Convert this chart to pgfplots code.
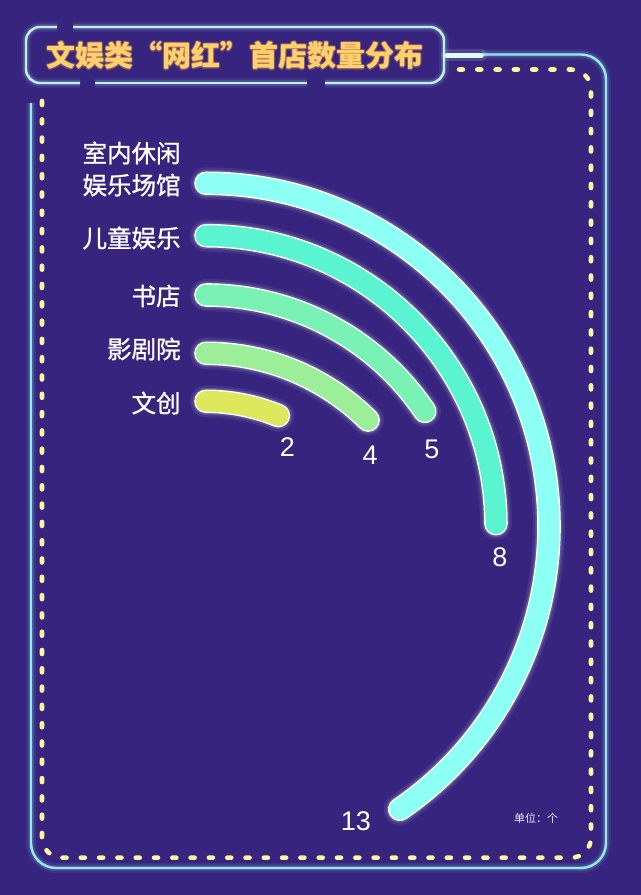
\documentclass[border=0pt]{standalone}
\usepackage{pgfplots}
\pgfplotsset{compat=1.18}
\usepackage{pgfplotstable}
\usepackage{fontspec}
\setmainfont{Liberation Sans}
\newfontfamily\cjk{Noto Sans CJK SC}
\newfontfamily\cjkm{Noto Sans CJK SC}[FakeBold=1]
\definecolor{bg}{RGB}{54,36,126}
\definecolor{framec}{RGB}{150,236,245}
\definecolor{boxc}{RGB}{190,243,248}
\definecolor{dotc}{RGB}{255,245,160}
\definecolor{titlec}{RGB}{255,208,112}
\definecolor{glowc}{RGB}{255,170,60}
\definecolor{c1}{RGB}{142,255,245}
\definecolor{c2}{RGB}{90,245,208}
\definecolor{c3}{RGB}{122,242,182}
\definecolor{c4}{RGB}{156,238,152}
\definecolor{c5}{RGB}{221,232,92}
\pgfdeclareplotmark{nothing}{}
\newcommand\PP[2]{(axis cs:#1,\fpeval{895-#2})}
\newcommand\titletext{\cjk\bfseries\fontsize{14.5}{15}\selectfont 文娱类“网红”首店数量分布}
\newcommand\framepaths[2]{%
  \draw[framec,line width=#1,opacity=#2,rounded corners=12.5pt]
    \PP{482}{54.5} -- \PP{606}{54.5} -- \PP{606}{868} -- \PP{31}{868} -- \PP{31}{103};
  \draw[boxc,line width=#1,opacity=#2,rounded corners=7pt]
    \PP{57}{27} -- \PP{26}{27} -- \PP{26}{83} -- \PP{80}{83};
  \draw[boxc,line width=#1,opacity=#2] \PP{95}{83} -- \PP{307}{83};
  \draw[boxc,line width=#1,opacity=#2,rounded corners=7pt]
    \PP{325}{83} -- \PP{444}{83} -- \PP{444}{27} -- \PP{73}{27};
}
\newcommand\tglow[2]{\node[text=glowc,opacity=0.18,xshift=#1pt,yshift=#2pt] at \PP{235}{55.5} {\titletext};}
\newcommand\bararc[2]{\draw[#1,line width=#2,line cap=round] (0,0) arc[start angle=90,end angle={90-11.2*\V},radius={\Rad*0.5pt}];}

% value, start y (px from top), arc radius (px), colour index, label offset
\pgfplotstableread{
value top rad ci dx dy
13 183.3 343 1 -44 12
8 235.7 290 2 4 34
5 295 264 3 7 38
4 353.3 230 4 2 35
2 401.3 190 5 9 31
}\bars

\begin{document}
\begin{tikzpicture}
\begin{axis}[x=0.5pt,y=0.5pt,xmin=0,xmax=641,ymin=0,ymax=895,
  disabledatascaling,hide axis,scale only axis,clip=false]
\fill[bg] (axis cs:0,0) rectangle (axis cs:641,895);
% frames with glow
\framepaths{5pt}{0.07}
\framepaths{3pt}{0.15}
\framepaths{1.2pt}{1}
\draw[white!70!framec,line width=6pt,opacity=0.15,line cap=round] \PP{447}{55.5} -- \PP{481}{55.5};
\draw[white!70!framec,line width=2.8pt,line cap=round] \PP{447}{55.5} -- \PP{481}{55.5};
% dotted frame
\draw[dotc,line width=2.3pt,line cap=round,dash pattern=on 2pt off 7.15pt,rounded corners=10pt]
  \PP{459}{69.5} -- \PP{591}{69.5} -- \PP{591}{857.7} -- \PP{42}{857.7} -- \PP{42}{94};
% title
\tglow{0.7}{0}\tglow{-0.7}{0}\tglow{0}{0.7}\tglow{0}{-0.7}
\tglow{0.5}{0.5}\tglow{-0.5}{0.5}\tglow{0.5}{-0.5}\tglow{-0.5}{-0.5}
\node[text=titlec] at \PP{235}{55.5} {\titletext};
% category labels
\node[anchor=east,align=right,text=white,inner sep=0pt,font=\cjkm\fontsize{12.25}{16}\selectfont] at \PP{181}{169} {室内休闲\\娱乐场馆};
\node[anchor=east,text=white,inner sep=0pt,font=\cjkm\fontsize{12.25}{16}\selectfont] at \PP{181}{238} {儿童娱乐};
\node[anchor=east,text=white,inner sep=0pt,font=\cjkm\fontsize{12.25}{16}\selectfont] at \PP{181}{296} {书店};
\node[anchor=east,text=white,inner sep=0pt,font=\cjkm\fontsize{12.25}{16}\selectfont] at \PP{181}{349} {影剧院};
\node[anchor=east,text=white,inner sep=0pt,font=\cjkm\fontsize{12.25}{16}\selectfont] at \PP{181}{403} {文创};
% bars
\addplot[only marks,mark=nothing,scatter,
  visualization depends on={\thisrow{value}\as\V},
  visualization depends on={\thisrow{rad}\as\Rad},
  visualization depends on={\thisrow{ci}\as\Ci},
  scatter/@pre marker code/.code={%
    \pgfmathtruncatemacro\ci{\Ci}%
    \bararc{white,opacity=0.08}{16pt}%
    \bararc{white,opacity=0.15}{13.5pt}%
    \bararc{white}{11.8pt}%
    \bararc{c\ci}{10.4pt}%
  },
  scatter/@post marker code/.code={}]
  table[x expr=206,y expr=895-\thisrow{top}] {\bars};
% value labels
\addplot[only marks,mark=nothing,scatter,
  visualization depends on={\thisrow{value}\as\V},
  scatter/@pre marker code/.code={%
    \pgfmathtruncatemacro\vv{\V}%
    \node[text=white,inner sep=0pt,font=\fontsize{13.5}{14}\selectfont] at (0,0) {\vv};},
  scatter/@post marker code/.code={}]
  table[x expr={206+\thisrow{rad}*sin(11.2*\thisrow{value})+\thisrow{dx}},
        y expr={895-(\thisrow{top}+\thisrow{rad}*(1-cos(11.2*\thisrow{value}))+\thisrow{dy})}] {\bars};
\node[text=white!90!bg] at \PP{536}{818} {\cjk\fontsize{5.5}{6}\selectfont 单位：个};
\end{axis}
\end{tikzpicture}
\end{document}
